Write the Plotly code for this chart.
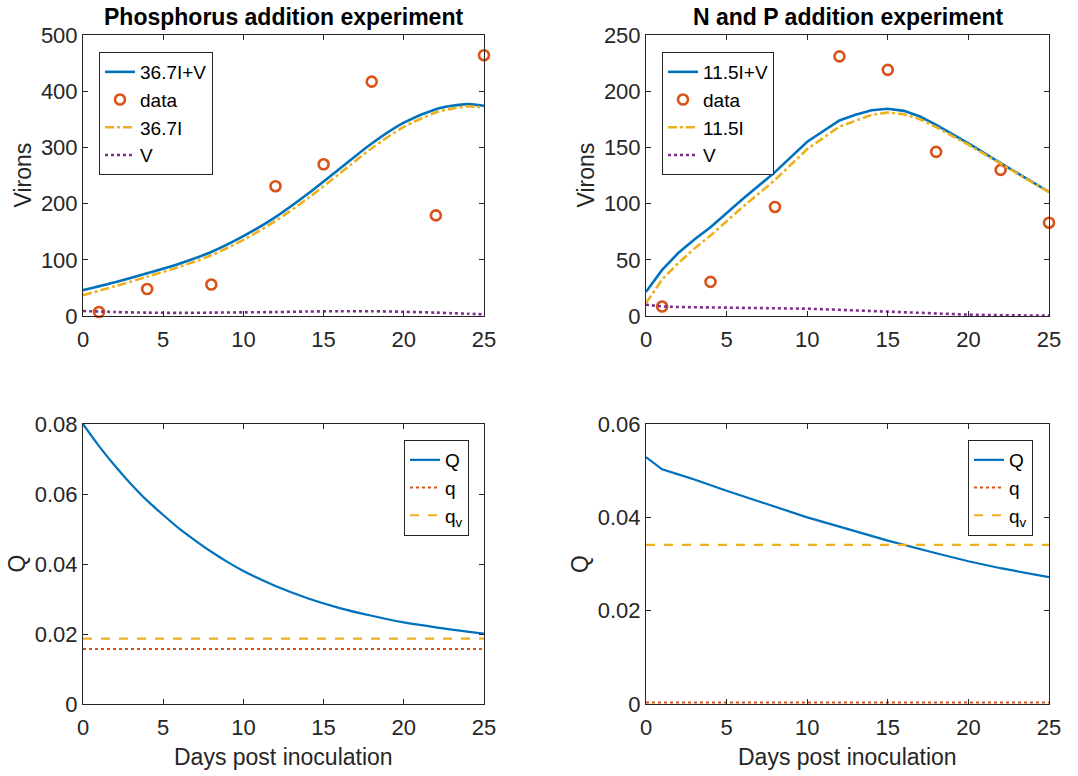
import plotly.graph_objects as go

# ---------------- data ----------------
days_data = [1, 4, 8, 12, 15, 18, 22, 25]

# Phosphorus addition experiment
p_obs = [7, 48, 56, 231, 270, 417, 179, 464]
p_days = [0, 2, 4, 6, 8, 10, 12, 14, 16, 18, 20, 22, 23, 24, 25]
p_IV = [46, 60, 76, 93, 114, 142, 176, 217, 262, 307, 344, 368, 374, 377, 374]
p_I = [37, 53, 70, 87.5, 108, 135.5, 169, 209, 253.5, 298.5, 336.5, 362, 369, 373, 371]
p_V = [9, 7, 6, 5.5, 6, 6.5, 7, 8, 8.5, 8.5, 7.5, 6, 5, 4, 3]

# N and P addition experiment
np_obs = [8.4, 30.4, 97, 231, 219, 146, 130, 83]
np_days = [0, 1, 2, 3, 4, 6, 8, 10, 12, 13, 14, 15, 16, 17, 18, 20, 22, 25]
np_IV = [21.5, 41, 56, 68, 79, 104, 128, 155, 174, 179, 183, 184.4, 182.5, 177.5, 170, 153.6, 136, 110.4]
np_I = [11.5, 32.5, 47, 60, 71.5, 97, 121, 148.5, 168.5, 174, 179, 181, 179.5, 175, 168, 152.4, 135.3, 110.1]
np_V = [10, 8.5, 8, 7.8, 7.5, 7, 7, 6.5, 5.5, 5, 4, 3.5, 3, 2.5, 2, 1.2, 0.7, 0.3]

# Quota plots
q_days = [0, 1, 2, 3, 4, 5, 6, 7, 8, 9, 10, 12, 14, 16, 18, 20, 22, 25]
p_Q = [0.0800, 0.0737, 0.0680, 0.0628, 0.0581, 0.0540, 0.0501, 0.0467, 0.0435, 0.0406,
       0.0380, 0.0337, 0.0302, 0.0274, 0.0252, 0.0233, 0.0219, 0.0201]
p_q = 0.0157
p_qv = 0.0187

nq_days = [0, 1, 2, 3, 5, 7, 10, 12, 15, 18, 20, 22, 25]
np_Q = [0.0529, 0.0503, 0.0492, 0.0481, 0.0457, 0.0434, 0.0400, 0.0380, 0.0350, 0.0323, 0.0306, 0.0291, 0.0272]
np_q = 0.0003
np_qv = 0.0341

x_ticks = [0, 5, 10, 15, 20, 25]

# ---------------- style ----------------
BLUE = "#0072BD"
ORANGE = "#D95319"
YELLOW = "#EDB120"
PURPLE = "#7E2F8E"
AX = "#262626"
FONT = "Liberation Sans, Arial, Helvetica, sans-serif"

W, H = 1078, 776

# plot-area pixel boxes
L_X = (83, 484)
R_X = (646, 1049)
T_Y = (35, 316)
B_Y = (424, 704)


def px_x(box):
    return [box[0] / W, box[1] / W]


def px_y(box):
    return [1 - box[1] / H, 1 - box[0] / H]


fig = go.Figure()

# top-left
fig.add_trace(go.Scatter(x=p_days, y=p_IV, mode="lines", name="36.7I+V",
                         line=dict(color=BLUE, width=2.6, shape="spline", smoothing=0.8),
                         xaxis="x", yaxis="y", legend="legend"))
fig.add_trace(go.Scatter(x=days_data, y=p_obs, mode="markers", name="data",
                         marker=dict(symbol="circle-open", size=10, color=ORANGE, line=dict(width=2.6, color=ORANGE)),
                         cliponaxis=False, xaxis="x", yaxis="y", legend="legend"))
fig.add_trace(go.Scatter(x=p_days, y=p_I, mode="lines", name="36.7I",
                         line=dict(color=YELLOW, width=2.6, dash="dashdot", shape="spline", smoothing=0.8),
                         xaxis="x", yaxis="y", legend="legend"))
fig.add_trace(go.Scatter(x=p_days, y=p_V, mode="lines", name="V",
                         line=dict(color=PURPLE, width=2.6, dash="dot", shape="spline", smoothing=0.8),
                         xaxis="x", yaxis="y", legend="legend"))

# top-right
fig.add_trace(go.Scatter(x=np_days, y=np_IV, mode="lines", name="11.5I+V",
                         line=dict(color=BLUE, width=2.6), xaxis="x2", yaxis="y2", legend="legend2"))
fig.add_trace(go.Scatter(x=days_data, y=np_obs, mode="markers", name="data",
                         marker=dict(symbol="circle-open", size=10, color=ORANGE, line=dict(width=2.6, color=ORANGE)),
                         cliponaxis=False, xaxis="x2", yaxis="y2", legend="legend2"))
fig.add_trace(go.Scatter(x=np_days, y=np_I, mode="lines", name="11.5I",
                         line=dict(color=YELLOW, width=2.6, dash="dashdot"), xaxis="x2", yaxis="y2", legend="legend2"))
fig.add_trace(go.Scatter(x=np_days, y=np_V, mode="lines", name="V",
                         line=dict(color=PURPLE, width=2.6, dash="dot"), xaxis="x2", yaxis="y2", legend="legend2"))

# bottom-left
fig.add_trace(go.Scatter(x=q_days, y=p_Q, mode="lines", name="Q",
                         line=dict(color=BLUE, width=2.2, shape="spline", smoothing=0.8),
                         xaxis="x3", yaxis="y3", legend="legend3"))
fig.add_trace(go.Scatter(x=[0, 25], y=[p_q, p_q], mode="lines", name="q",
                         line=dict(color=ORANGE, width=2, dash="dot"), xaxis="x3", yaxis="y3", legend="legend3"))
fig.add_trace(go.Scatter(x=[0, 25], y=[p_qv, p_qv], mode="lines", name="q<sub>v</sub>",
                         line=dict(color=YELLOW, width=2.2, dash="dash"), xaxis="x3", yaxis="y3", legend="legend3"))

# bottom-right
fig.add_trace(go.Scatter(x=nq_days, y=np_Q, mode="lines", name="Q",
                         line=dict(color=BLUE, width=2.2), xaxis="x4", yaxis="y4", legend="legend4"))
fig.add_trace(go.Scatter(x=[0, 25], y=[np_q, np_q], mode="lines", name="q",
                         line=dict(color=ORANGE, width=2, dash="dot"), xaxis="x4", yaxis="y4", legend="legend4"))
fig.add_trace(go.Scatter(x=[0, 25], y=[np_qv, np_qv], mode="lines", name="q<sub>v</sub>",
                         line=dict(color=YELLOW, width=2.2, dash="dash"), xaxis="x4", yaxis="y4", legend="legend4"))

common = dict(showline=True, linecolor=AX, linewidth=1, mirror="allticks", ticks="inside",
              ticklen=5, tickcolor=AX, showgrid=False, zeroline=False, automargin=False,
              tickfont=dict(family=FONT, size=22, color=AX))
xcommon = dict(common, ticklabelstandoff=4)

fig.update_layout(
    width=W, height=H,
    margin=dict(l=0, r=0, t=0, b=0, pad=0, autoexpand=False),
    paper_bgcolor="white", plot_bgcolor="white",
    font=dict(family=FONT, color=AX),
    xaxis=dict(domain=px_x(L_X), range=[0, 25], tickvals=x_ticks, anchor="y", **xcommon),
    yaxis=dict(domain=px_y(T_Y), range=[0, 500], dtick=100, anchor="x", **common),
    xaxis2=dict(domain=px_x(R_X), range=[0, 25], tickvals=x_ticks, anchor="y2", **xcommon),
    yaxis2=dict(domain=px_y(T_Y), range=[0, 250], dtick=50, anchor="x2", **common),
    xaxis3=dict(domain=px_x(L_X), range=[0, 25], tickvals=x_ticks, anchor="y3", **xcommon),
    yaxis3=dict(domain=px_y(B_Y), range=[0, 0.08], dtick=0.02, anchor="x3", **common),
    xaxis4=dict(domain=px_x(R_X), range=[0, 25], tickvals=x_ticks, anchor="y4", **xcommon),
    yaxis4=dict(domain=px_y(B_Y), range=[0, 0.06], dtick=0.02, anchor="x4", **common),
)

leg_common = dict(bgcolor="white", bordercolor=AX, borderwidth=1,
                  font=dict(family=FONT, size=19, color="black"),
                  xanchor="left", yanchor="top", itemwidth=30, tracegroupgap=0)
fig.update_layout(
    legend=dict(x=99 / W, y=1 - 52 / H, **leg_common),
    legend2=dict(x=662 / W, y=1 - 52 / H, **leg_common),
    legend3=dict(x=404 / W, y=1 - 440 / H, **leg_common),
    legend4=dict(x=968 / W, y=1 - 440 / H, **leg_common),
)

# titles
for txt, box in [("Phosphorus addition experiment", L_X), ("N and P addition experiment", R_X)]:
    fig.add_annotation(text="<b>" + txt + "</b>", x=(box[0] + box[1]) / 2 / W, y=1 - 17 / H,
                       xref="paper", yref="paper", xanchor="center", yanchor="middle", showarrow=False,
                       font=dict(family=FONT, size=23, color="black"))

# axis titles
lab_font = dict(family=FONT, size=23, color=AX)
for txt, xc, box in [("Virons", 23, T_Y), ("Virons", 586, T_Y), ("Q", 16.5, B_Y), ("Q", 580, B_Y)]:
    fig.add_annotation(text=txt, x=xc / W, y=1 - (box[0] + box[1]) / 2 / H, xref="paper", yref="paper",
                       xanchor="center", yanchor="middle", textangle=-90, showarrow=False, font=lab_font)
for box in [L_X, R_X]:
    fig.add_annotation(text="Days post inoculation", x=(box[0] + box[1]) / 2 / W, y=1 - 757 / H,
                       xref="paper", yref="paper", xanchor="center", yanchor="middle", showarrow=False,
                       font=lab_font)

fig.write_html("out.html")
